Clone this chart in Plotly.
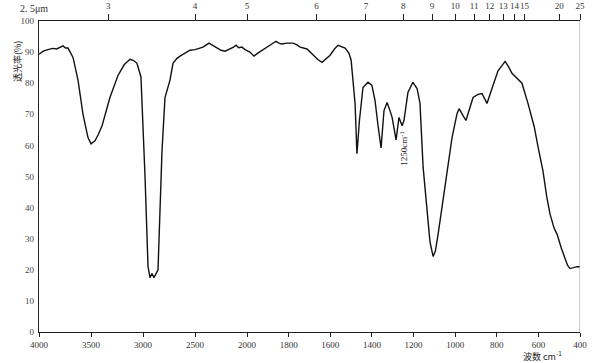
import plotly.graph_objects as go

# IR spectrum data (wavenumber cm^-1, transmittance %)
wavenumber = [4000, 3960, 3914, 3870, 3830, 3800, 3769, 3745, 3721, 3673, 3625, 3577, 3529, 3500,
              3462, 3430, 3394, 3318, 3241, 3180, 3125, 3090, 3058, 3020, 3000, 2981, 2952, 2933,
              2914, 2895, 2856, 2818, 2789, 2741, 2712, 2674, 2640, 2597, 2549, 2500, 2460, 2424,
              2366, 2330, 2289, 2250, 2212, 2164, 2130, 2106, 2080, 2049, 2020, 1986, 1967, 1950,
              1928, 1910, 1890, 1861, 1845, 1832, 1810, 1779, 1760, 1745, 1712, 1688, 1660, 1640,
              1620, 1601, 1580, 1563, 1529, 1510, 1500, 1490, 1481, 1472, 1460, 1443, 1419, 1400,
              1385, 1370, 1356, 1342, 1327, 1315, 1303, 1284, 1274, 1270, 1255, 1246, 1227, 1203,
              1183, 1169, 1154, 1135, 1121, 1106, 1095, 1082, 1049, 1015, 991, 981, 962, 948, 914,
              890, 871, 847, 823, 794, 760, 745, 727, 700, 679, 650, 620, 600, 578, 560, 544, 525,
              510, 490, 472, 460, 448, 430, 414, 400]
transmittance = [89.3, 90.3, 90.8, 91.2, 91.0, 91.6, 92.0, 91.3, 91.3, 88.3, 81, 70, 62.5, 60.5,
                 61.5, 63.5, 66.3, 75.4, 82.5, 86, 87.7, 87.3, 86.4, 82, 66, 50, 21, 17.5,
                 18.8, 17.5, 20, 58, 75.4, 81, 86.4, 88, 88.8, 89.6, 90.6, 90.8, 91.2, 91.6,
                 92.9, 92.2, 91.3, 90.6, 90.3, 91, 91.6, 92.2, 91.4, 91.6, 90.8, 90, 88.7, 89.6,
                 90.6, 91.4, 92.2, 93.5, 92.8, 92.6, 92.9, 92.9, 92.3, 91.6, 91, 89.3, 87.6, 86.7,
                 88, 89, 91, 92.2, 91.3, 89.6, 87.4, 81, 73.5, 57.3, 68, 78.6, 80.3, 79.3,
                 74.4, 66, 59.2, 71.2, 73.8, 71.5, 69, 61.8, 68.6, 69, 66.3, 68, 77, 80.3,
                 78.3, 73.5, 53, 39.8, 29, 24.3, 26, 31.4, 46.3, 62.5, 70.2, 71.8, 69.6, 68, 75.4,
                 76.4, 76.7, 73.5, 78.3, 84, 87, 85.5, 83.2, 81.5, 80, 73.5, 66, 59, 51.8, 43.5, 37.9, 33.5,
                 31.4, 27, 23.6, 21.5, 20.4, 20.8, 21, 21]

wn_ticks = [4000, 3500, 3000, 2500, 2000, 1800, 1600, 1400, 1200, 1000, 800, 600, 400]
um_ticks = [3, 4, 5, 6, 7, 8, 9, 10, 11, 12, 13, 14, 15, 20, 25]
t_ticks = [0, 10, 20, 30, 40, 50, 60, 70, 80, 90, 100]


def to_u(w):
    # spectrometer chart: scale doubles below 2000 cm^-1
    return (4000 - w) if w >= 2000 else 2000 + 2 * (2000 - w)


xu = [to_u(w) for w in wavenumber]
U_MAX = to_u(400)

serif = "Liberation Serif"
fig = go.Figure()
fig.add_trace(go.Scatter(x=xu, y=transmittance, mode="lines",
                         line=dict(color="#111", width=1.4), showlegend=False,
                         hoverinfo="skip"))
fig.add_trace(go.Scatter(x=[0, U_MAX], y=[None, None], xaxis="x2", mode="lines",
                         showlegend=False, hoverinfo="skip"))

fig.update_layout(
    width=600, height=363,
    margin=dict(l=39, r=20, t=21, b=31),
    paper_bgcolor="white", plot_bgcolor="white",
    font=dict(family=serif, size=9, color="#333"),
    xaxis=dict(range=[0, U_MAX], tickvals=[to_u(w) for w in wn_ticks],
               ticktext=[str(w) for w in wn_ticks], showgrid=False, zeroline=False,
               showline=True, linecolor="#222", linewidth=1.2, automargin=False,
               ticks="outside", ticklen=4, tickcolor="#222", tickangle=0,
               tickfont=dict(family=serif, size=9, color="#333")),
    xaxis2=dict(range=[0, U_MAX], overlaying="x", side="top",
                tickvals=[to_u(10000 / m) for m in um_ticks],
                ticktext=[str(m) for m in um_ticks], showgrid=False, zeroline=False,
                showline=True, linecolor="#222", linewidth=1.2, automargin=False,
                ticks="outside", ticklen=6, tickcolor="#222", tickangle=0,
                ticklabelstandoff=1,
                tickfont=dict(family=serif, size=9, color="#333")),
    yaxis=dict(range=[0, 100], tickvals=t_ticks, showgrid=False, zeroline=False,
               showline=True, linecolor="#222", linewidth=1.2, ticks="",
               ticklabelstandoff=2, automargin=False,
               tickfont=dict(family=serif, size=9, color="#444")),
)

fig.add_shape(type="line", xref="x", yref="paper", x0=U_MAX, x1=U_MAX, y0=0, y1=1,
              line=dict(color="#999", width=1))

fig.add_annotation(xref="paper", yref="paper", x=0, y=1, xshift=-5, yshift=13,
                   text="2. 5μm", showarrow=False, xanchor="center", yanchor="middle",
                   font=dict(family=serif, size=10, color="#333"))
fig.add_annotation(xref="paper", yref="paper", x=0, y=0.868, xshift=-22,
                   text="透光率(%)", textangle=-90, showarrow=False,
                   xanchor="center", yanchor="middle",
                   font=dict(family="Noto Sans CJK SC", size=9, color="#222"))
fig.add_annotation(xref="paper", yref="paper", x=1, y=0, xshift=-38, yshift=-24,
                   text="波数 cm<sup>-1</sup>", showarrow=False,
                   xanchor="center", yanchor="middle",
                   font=dict(family="Noto Sans CJK SC", size=9, color="#222"))
fig.add_annotation(x=to_u(1250), y=59, text="1250cm<sup>-1</sup>", textangle=-90,
                   showarrow=False, font=dict(family=serif, size=9, color="#222"))

fig.write_html("out.html", config={"displayModeBar": False},
               post_script="document.body.style.margin='0';document.body.style.overflow='hidden';")
